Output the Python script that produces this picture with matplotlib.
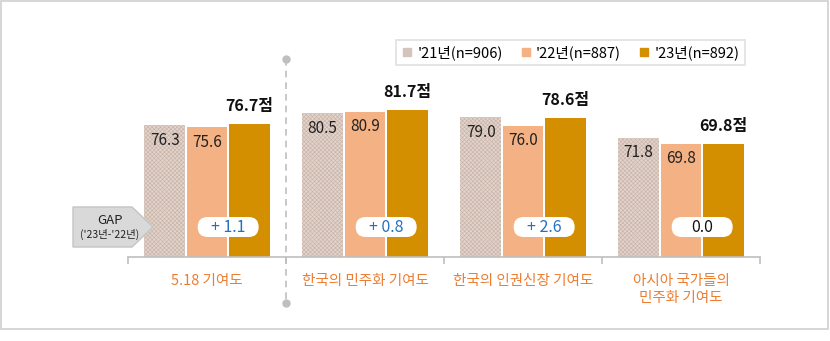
import matplotlib
matplotlib.use("Agg")
import matplotlib.pyplot as plt
import matplotlib.transforms as mtransforms
from matplotlib.patches import Rectangle, FancyBboxPatch, Polygon
from matplotlib.lines import Line2D

plt.rcParams['font.family'] = ['Noto Sans CJK KR', 'DejaVu Sans']
plt.rcParams['hatch.linewidth'] = 0.45

# Survey scores by item and year
categories = ['5.18 기여도', '한국의 민주화 기여도', '한국의 인권신장 기여도', '아시아 국가들의\n민주화 기여도']
series_names = ["'21년(n=906)", "'22년(n=887)", "'23년(n=892)"]
scores_21 = [76.3, 80.5, 79.0, 71.8]
scores_22 = [75.6, 80.9, 76.0, 69.8]
scores_23 = [76.7, 81.7, 78.6, 69.8]

c21, c21_hatch = '#e2d3cb', '#c9b4a9'
c22 = '#f4b183'
c23 = '#d48f00'
orange = '#ed7d31'
grid_gray = '#bfbfbf'

W, H, DPI = 830, 341, 100
fig = plt.figure(figsize=(W / DPI, H / DPI), dpi=DPI)

# outer frame
fig.patches.append(Rectangle((1 / W, 12 / H), 827 / W, 328 / H, transform=fig.transFigure,
                             fill=False, edgecolor='#d0d0d0', linewidth=1.2, zorder=0))

ax = fig.add_axes([128 / W, (H - 257) / H, 632 / W, 227 / H])
ax.set_xlim(-0.5, 3.5)
ax.set_ylim(30, 30 + 227 / 2.85)

x = range(len(categories))
step = 0.268
bw = 0.258

xs21 = [i - step for i in x]
xs22 = list(x)
xs23 = [i + step for i in x]

ax.bar(xs21, [v - 30 for v in scores_21], bw, bottom=30, color=c21, linewidth=0, zorder=2)
ax.bar(xs21, [v - 30 for v in scores_21], bw, bottom=30, color='none', edgecolor=c21_hatch,
       hatch='xxxxxxxx', linewidth=0, zorder=2)
ax.bar(xs22, [v - 30 for v in scores_22], bw, bottom=30, color=c22, linewidth=0, zorder=2)
ax.bar(xs23, [v - 30 for v in scores_23], bw, bottom=30, color=c23, linewidth=0, zorder=2)

# value labels
for xi, v in zip(xs21 + xs22, scores_21 + scores_22):
    ax.annotate(f'{v:.1f}', (xi, v), xytext=(0, -15), textcoords='offset pixels',
                ha='center', va='center', fontsize=11, color='#222222', zorder=4)
for xi, v in zip(xs23, scores_23):
    ax.annotate(f'{v:.1f}점', (xi, v), xytext=(0, 18), textcoords='offset pixels',
                ha='center', va='center', fontsize=11.5, fontweight='bold', color='#111111',
                zorder=4)

# gap badges ('23 - '22)
gap_y = 30 + 30 / 2.85
for i, (a, b) in enumerate(zip(scores_22, scores_23)):
    gap = round(b - a, 1)
    cx = i + step / 2
    trans = fig.dpi_scale_trans + mtransforms.ScaledTranslation(cx, gap_y, ax.transData)
    ax.add_patch(FancyBboxPatch((-0.305, -0.1), 0.61, 0.2, transform=trans,
                                boxstyle='round,pad=0,rounding_size=0.1',
                                facecolor='white', edgecolor='none', zorder=5, clip_on=False))
    label = f'+ {gap:.1f}' if gap > 0 else f'{gap:.1f}'
    ax.text(cx, gap_y, label, ha='center', va='center', fontsize=11.5,
            color='#2470c0' if gap > 0 else '#111111', zorder=6)

# axis styling
for s in ['top', 'right', 'left']:
    ax.spines[s].set_visible(False)
ax.spines['bottom'].set_color(grid_gray)
ax.spines['bottom'].set_linewidth(1.2)
ax.set_yticks([])
ax.set_xticks([-0.5, 0.5, 1.5, 2.5, 3.5])
ax.set_xticklabels([])
ax.tick_params(axis='x', direction='out', length=5, color=grid_gray, width=1.2)

for i, cat in enumerate(categories):
    ax.annotate(cat, (i, 0), xycoords=('data', 'axes fraction'), xytext=(0, -17),
                textcoords='offset pixels', ha='center', va='top', fontsize=10.5,
                color=orange, linespacing=1.3)

# separator between first item and the rest
sep = ax.get_xaxis_transform()
ax.plot([0.5, 0.5], [0.872, -0.203], transform=sep, color=grid_gray, linewidth=1.2,
        linestyle=(0, (4, 3)), clip_on=False, zorder=1)
ax.plot([0.5, 0.5], [0.872, -0.203], transform=sep, color=grid_gray, linestyle='none',
        marker='o', markersize=5, clip_on=False, zorder=1)

# GAP pointer on the left
pts = [(73, 207), (132, 207), (153, 227), (132, 247), (73, 247)]
fig.patches.append(Polygon([(px / DPI, (H - py) / DPI) for px, py in pts],
                           closed=True, transform=fig.dpi_scale_trans,
                           facecolor='#d9d9d9', edgecolor='#c4c4c4', linewidth=1, zorder=10))
fig.text(110 / W, (H - 221) / H, 'GAP', ha='center', va='center', fontsize=9.5,
         color='#222222', zorder=11)
fig.text(110 / W, (H - 234) / H, "('23년-'22년)", ha='center', va='center', fontsize=7.5,
         color='#222222', zorder=11)

# legend
handles = [Line2D([], [], marker='s', linestyle='none', markersize=6, color=c, label=n)
           for c, n in zip(['#d5c4bb', c22, c23], series_names)]
leg = fig.legend(handles=handles, loc='upper right', bbox_to_anchor=(752 / W, (H - 33) / H),
                 ncol=3, frameon=True, fancybox=False, fontsize=10.5, handlelength=0.8,
                 handletextpad=0.3, columnspacing=1.2, borderpad=0.35)
leg.get_frame().set_edgecolor('#d9d9d9')
leg.get_frame().set_linewidth(1.2)

fig.savefig('out.png', dpi=DPI)
